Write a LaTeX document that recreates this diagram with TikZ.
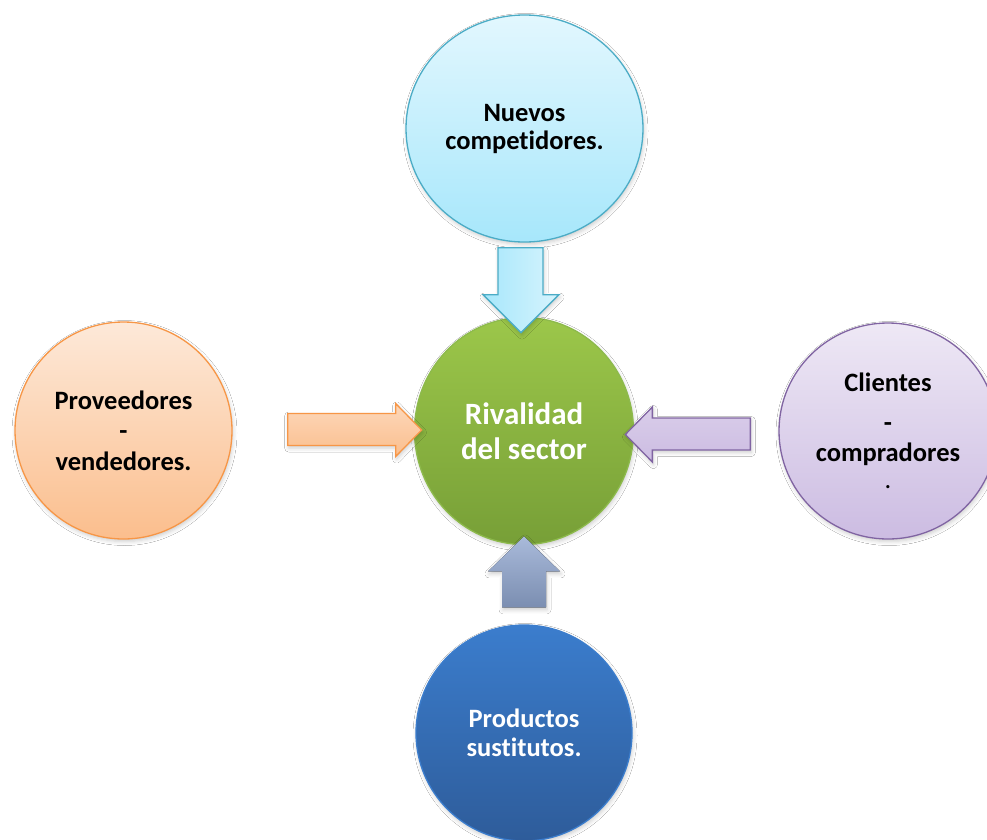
\documentclass[tikz,border=0pt]{standalone}
\usepackage{fontspec}
\setmainfont{Carlito}[Ligatures={NoCommon}]
\usetikzlibrary{shapes.geometric,shadows.blur,calc}

\definecolor{cyanEdge}{HTML}{4BACC6}
\definecolor{cyanTop}{HTML}{E2F7FE}
\definecolor{cyanBot}{HTML}{A7E7FB}
\definecolor{greenEdge}{HTML}{8DBA4C}
\definecolor{greenTop}{HTML}{9CC74A}
\definecolor{greenBot}{HTML}{779F37}
\definecolor{orangeEdge}{HTML}{F79646}
\definecolor{orangeTop}{HTML}{FDE9D9}
\definecolor{orangeBot}{HTML}{FBBE8D}
\definecolor{purpleEdge}{HTML}{8064A2}
\definecolor{purpleTop}{HTML}{EEE8F5}
\definecolor{purpleBot}{HTML}{CCBCE2}
\definecolor{blueTop}{HTML}{3B7DCD}
\definecolor{blueBot}{HTML}{2E5C9A}
\definecolor{slateTop}{HTML}{A9BADA}
\definecolor{slateBot}{HTML}{7B8EB1}

\begin{document}
\begin{tikzpicture}[x=1pt,y=-1pt,
  softshadow/.style={blur shadow={shadow xshift=1pt, shadow yshift=-2.5pt,
      shadow blur radius=4pt, shadow opacity=20}},
  force/.style={ellipse, draw, line width=1.3pt, inner sep=0pt, align=center,
      softshadow, font=\bfseries\fontsize{26.5}{28}\selectfont},
  blockarrow/.style={line width=1.3pt, line join=miter, softshadow}
]
\useasboundingbox[fill=white] (0,0) rectangle (987,839);

% the five forces
\node[force, draw=cyanEdge, top color=cyanTop, bottom color=cyanBot,
      minimum width=237pt, minimum height=227pt] (nuevos) at (524.5,128.5)
      {Nuevos\\competidores.};
\node[force, draw=orangeEdge, top color=orangeTop, bottom color=orangeBot,
      minimum width=217pt, minimum height=217pt,
      font=\bfseries\fontsize{26.5}{30.5}\selectfont] (prov) at (123.5,430.5)
      {Proveedores\\-\\vendedores.};
\node[force, draw=purpleEdge, top color=purpleTop, bottom color=purpleBot,
      minimum width=218pt, minimum height=216pt,
      font=\bfseries\fontsize{26.5}{30}\selectfont] (clientes) at (888,431)
      {Clientes\\[10pt]-\\compradores\\[-3pt]{\mdseries .}};
\node[force, draw=blueTop, top color=blueTop, bottom color=blueBot, text=white,
      minimum width=216pt, minimum height=216pt,
      font=\bfseries\fontsize{26.5}{29}\selectfont] (prod) at (524,733)
      {Productos\\sustitutos.};
\node[force, draw=greenEdge, top color=greenTop, bottom color=greenBot, text=white,
      minimum width=219pt, minimum height=227pt,
      font=\bfseries\fontsize{31}{35}\selectfont] (rival) at (524,431)
      {Rivalidad\\del sector};

% block arrows pointing at the centre
\coordinate (nTail) at ($(nuevos.south)+(-3.5,5)$);
\coordinate (pTail) at ($(prov.east)+(55,-1)$);
\coordinate (cTail) at ($(clientes.west)+(-28,3.5)$);
\coordinate (sTail) at ($(prod.north)+(0,-17)$);

\draw[blockarrow, draw=cyanEdge, left color=cyanBot, right color=cyanTop!80!cyanBot]
  ($(nTail)+(-23,0)$) -- ++(45,0) -- ++(0,47) -- ++(16,0) -- ++(-38,38)
  -- ++(-38,-38) -- ++(15,0) -- cycle;

\draw[blockarrow, draw=orangeEdge, top color=orangeTop!60!orangeBot, bottom color=orangeBot]
  ($(pTail)+(0,-16)$) -- ++(108,0) -- ++(0,-10) -- ++(26,26.5) -- ++(-26,26.5)
  -- ++(0,-11) -- ++(-108,0) -- cycle;

\draw[blockarrow, draw=purpleEdge, top color=purpleTop!40!purpleBot, bottom color=purpleBot]
  ($(cTail)+(0,-16.5)$) -- ++(-98,0) -- ++(0,-11) -- ++(-27,27.5) -- ++(27,27.5)
  -- ++(0,-12) -- ++(98,0) -- cycle;

\fill[softshadow, top color=slateTop, bottom color=slateBot]
  ($(sTail)+(-22,0)$) -- ++(44,0) -- ++(0,-36) -- ++(14,0) -- ++(-36,-35)
  -- ++(-36,35) -- ++(14,0) -- cycle;
\end{tikzpicture}
\end{document}
